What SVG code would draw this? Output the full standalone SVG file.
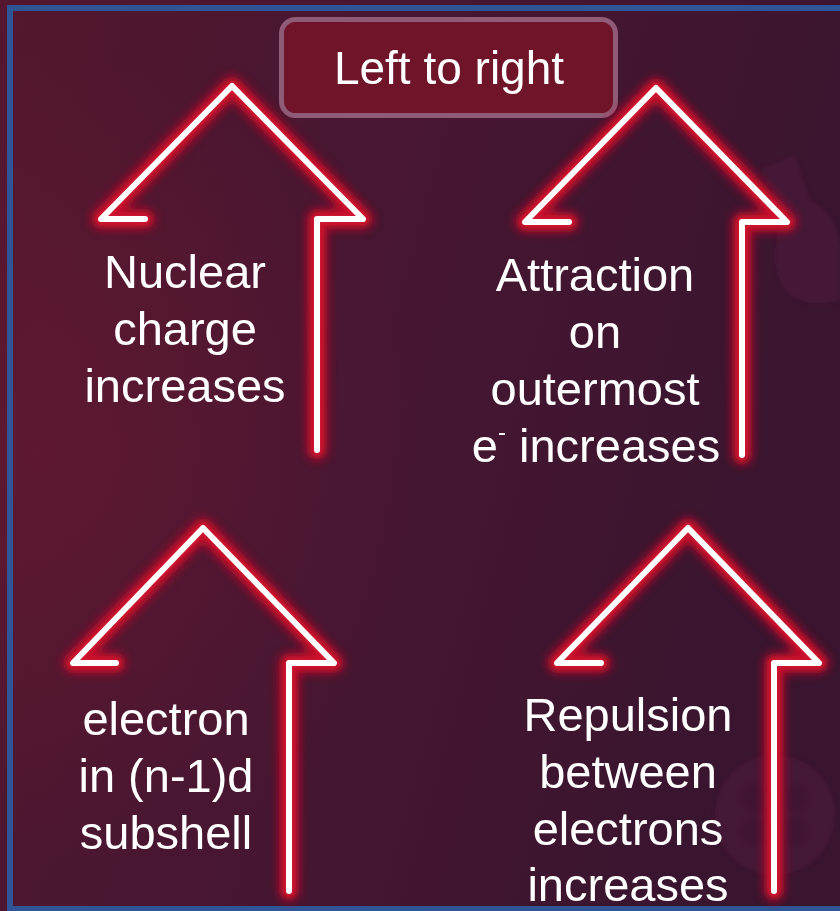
<svg xmlns="http://www.w3.org/2000/svg" width="840" height="911" viewBox="0 0 840 911">
<defs>
<linearGradient id="bg" x1="0" y1="0" x2="1" y2="0.3">
<stop offset="0" stop-color="#53172f"/>
<stop offset="0.55" stop-color="#461631"/>
<stop offset="1" stop-color="#3a152f"/>
</linearGradient>
<radialGradient id="glowL" cx="0.05" cy="0.5" r="0.45">
<stop offset="0" stop-color="#7a1a35" stop-opacity="0.35"/>
<stop offset="1" stop-color="#7a1a35" stop-opacity="0"/>
</radialGradient>
<filter id="blur" x="-20%" y="-20%" width="140%" height="140%">
<feGaussianBlur stdDeviation="5"/>
</filter>
<filter id="soft" x="-20%" y="-20%" width="140%" height="140%">
<feGaussianBlur stdDeviation="2"/>
</filter>
</defs>
<style>
.glow{fill:none;stroke:#c0102a;stroke-width:20;stroke-linejoin:round;stroke-linecap:round;filter:url(#blur)}
.glow2{fill:none;stroke:#d0142e;stroke-width:11;stroke-linejoin:round;stroke-linecap:round;filter:url(#soft)}
.line{fill:none;stroke:#ffffff;stroke-width:6;stroke-linejoin:round;stroke-linecap:round}
.lbl{font-family:"Liberation Sans",Arial,sans-serif;font-size:47px;fill:#ffffff;text-anchor:middle}
.deco{fill:#6a2a55;opacity:0.22}
</style>
<rect x="0" y="0" width="840" height="911" fill="url(#bg)"/>
<rect x="0" y="0" width="840" height="911" fill="url(#glowL)"/>
<g id="decorations" filter="url(#soft)">
<path class="deco" d="M760,170 L795,155 L810,200 Q840,215 840,250 L840,300 Q805,310 785,290 Q765,260 785,215 Z"/>
<circle class="deco" cx="775" cy="815" r="60"/>
<g fill="#3a1330" opacity="0.35">
<circle cx="755" cy="798" r="15"/>
<circle cx="795" cy="798" r="15"/>
<circle cx="755" cy="832" r="15"/>
<circle cx="795" cy="832" r="15"/>
</g>
</g>
<rect x="10" y="8" width="840" height="901" fill="none" stroke="#2f5597" stroke-width="6"/>
<g id="title">
<rect x="281.5" y="19.5" width="334" height="96" rx="14" fill="#6f1429" stroke="#8f5b76" stroke-width="5"/>
<text x="449" y="84" font-family="Liberation Sans, Arial, sans-serif" font-size="46" fill="#ffffff" text-anchor="middle">Left to right</text>
</g>
<g id="arrow-nuclear">
<path class="glow" d="M145,219 L101,219 L232,86 L363,219 L317,219 L317,450"/>
<path class="glow2" d="M145,219 L101,219 L232,86 L363,219 L317,219 L317,450"/>
<path class="line" d="M145,219 L101,219 L232,86 L363,219 L317,219 L317,450"/>
<text class="lbl" x="185" y="288">Nuclear</text>
<text class="lbl" x="185" y="345">charge</text>
<text class="lbl" x="185" y="402">increases</text>
</g>
<g id="arrow-attraction">
<path class="glow" d="M569,222 L525,222 L656,88 L787,222 L742,222 L742,455"/>
<path class="glow2" d="M569,222 L525,222 L656,88 L787,222 L742,222 L742,455"/>
<path class="line" d="M569,222 L525,222 L656,88 L787,222 L742,222 L742,455"/>
<text class="lbl" x="595" y="291">Attraction</text>
<text class="lbl" x="595" y="348">on</text>
<text class="lbl" x="595" y="405">outermost</text>
<text class="lbl" x="596" y="462">e<tspan font-size="24" dy="-22">-</tspan><tspan dy="22"> increases</tspan></text>
</g>
<g id="arrow-electron">
<path class="glow" d="M116,663 L73,663 L203,528 L334,663 L289,663 L289,891"/>
<path class="glow2" d="M116,663 L73,663 L203,528 L334,663 L289,663 L289,891"/>
<path class="line" d="M116,663 L73,663 L203,528 L334,663 L289,663 L289,891"/>
<text class="lbl" x="166" y="735">electron</text>
<text class="lbl" x="166" y="792">in (n-1)d</text>
<text class="lbl" x="166" y="849">subshell</text>
</g>
<g id="arrow-repulsion">
<path class="glow" d="M601,663 L557,663 L688,528 L819,663 L774,663 L774,891"/>
<path class="glow2" d="M601,663 L557,663 L688,528 L819,663 L774,663 L774,891"/>
<path class="line" d="M601,663 L557,663 L688,528 L819,663 L774,663 L774,891"/>
<text class="lbl" x="628" y="731">Repulsion</text>
<text class="lbl" x="628" y="788">between</text>
<text class="lbl" x="628" y="845">electrons</text>
<text class="lbl" x="628" y="901">increases</text>
</g>
<g id="connectors"/>
</svg>
